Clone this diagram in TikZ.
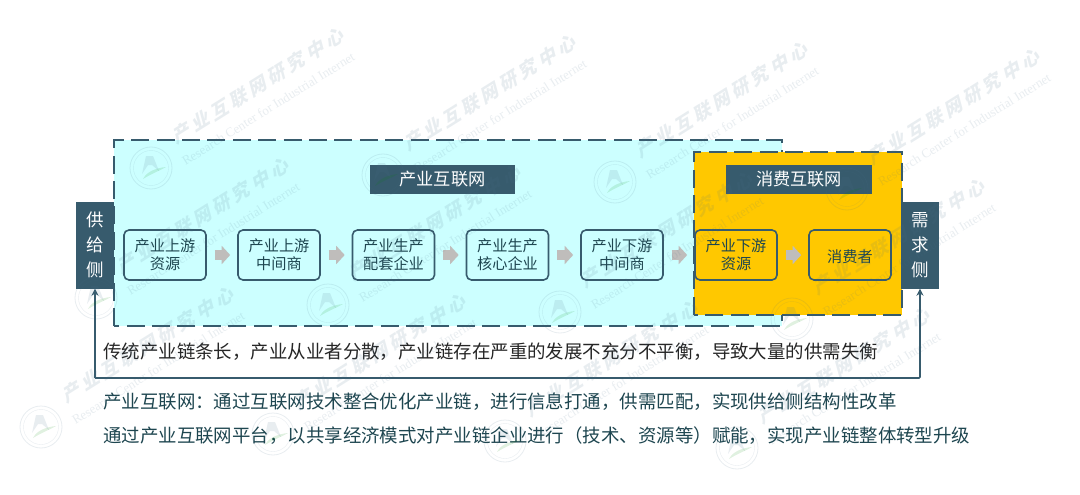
\documentclass[tikz,border=0pt]{standalone}
\usepackage{fontspec}
\setmainfont{Noto Sans CJK SC}
\newfontfamily\wmfont[LetterSpace=22]{Noto Sans CJK SC}
\newfontfamily\wmen{Liberation Serif}
\usetikzlibrary{arrows.meta,calc}
\definecolor{deep}{HTML}{375B6D}
\definecolor{cyanbg}{HTML}{CCFFFF}
\definecolor{goldbg}{HTML}{FFC800}
\definecolor{arrowgray}{HTML}{BFBDBB}
\definecolor{ink}{HTML}{1E4650}
\definecolor{wmblue}{HTML}{4A6F8A}
\tikzset{
  x=1pt,y=-1pt,
  zone/.style={draw=deep,line width=2pt,dash pattern=on 18pt off 7.4pt},
  head/.style={fill=deep,text=white,font=\fontsize{17.2}{20}\selectfont,inner sep=0pt,minimum height=29pt},
  stepbox/.style={draw=deep,line width=1.6pt,rounded corners=5pt,minimum width=82pt,minimum height=50pt,inner sep=0pt,align=center,text=ink,font=\fontsize{15.2}{18}\selectfont,execute at begin node=\rule{0pt}{16.5pt}},
  side/.style={fill=deep,text=white,minimum width=38pt,minimum height=87pt,inner sep=0pt,align=center,font=\fontsize{17.5}{25}\selectfont},
  flowarrow/.style={arrowgray,line width=10.5pt,-{Triangle[length=8.5pt,width=18pt]},shorten <=8pt,shorten >=7pt},
  feedback/.style={deep,line width=1.6pt,-{Stealth[length=7pt,width=7pt]},rounded corners=1pt},
  caption/.style={anchor=west,inner sep=0pt,font=\fontsize{18.45}{22}\selectfont},
}
\newcommand{\wmark}[2]{%
  \begin{scope}[shift={(#1,#2)},opacity=.12]
    \draw[wmblue,line width=.8pt] (0,0) circle[radius=21];
    \draw[wmblue,line width=.4pt] (0,0) circle[radius=17.5];
    \fill[wmblue] (-9,6) -- (-5,-12) -- (2,-12) -- (8,3) -- (1,-3) -- (-3,-3) -- cycle;
    \fill[green!55!black] (-8,11) .. controls (-4,3) and (6,0) .. (15,-1) .. controls (8,3) and (0,6) .. cycle;
    \begin{scope}[shift={(23,-30)},rotate=32,xslant=.3,transform shape]
      \node[wmblue,font=\wmfont\bfseries\fontsize{18.5}{20}\selectfont,anchor=west,inner sep=0pt] at (0,0) {产业互联网研究中心};
    \end{scope}
    \node[wmblue,font=\wmen\fontsize{13}{15}\selectfont,rotate=32,anchor=west,inner sep=0pt] at (32,-6) {Research Center for Industrial Internet};
  \end{scope}}
\begin{document}
\begin{tikzpicture}
\useasboundingbox (0,0) rectangle (1080,495);
\fill[white] (0,0) rectangle (1080,495);
% zones
\path[fill=cyanbg] (114,140) rectangle (781.5,326);
\draw[zone] (114,326) -- (114,140) -- (781.5,140) -- (781.5,326) -- cycle;
\path[fill=goldbg] (693.5,152) rectangle (901.5,314.5);
\draw[zone] (693.5,314.5) -- (693.5,152) -- (901.5,152) -- (901.5,314.5) -- cycle;
% headers
\node[head,minimum width=145pt] (hA) at (442.5,179) {产业互联网};
\node[head,minimum width=146pt] (hB) at (799,179) {消费互联网};
% sides
\node[side] (sup) at (95,245) {供\\给\\侧};
\node[side] (dem) at (920,245) {需\\求\\侧};
% step boxes
\node[stepbox] (s1) at (165,255) {产业上游\\资源};
\node[stepbox] (s2) at (279,255) {产业上游\\中间商};
\node[stepbox] (s3) at (393.5,255) {产业生产\\配套企业};
\node[stepbox] (s4) at (507.5,255) {产业生产\\核心企业};
\node[stepbox] (s5) at (622,255) {产业下游\\中间商};
\node[stepbox] (s6) at (736,255) {产业下游\\资源};
\node[stepbox] (s7) at (850,255) {消费者};
\foreach \a/\b in {s1/s2,s2/s3,s3/s4,s4/s5,s5/s6,s6/s7}{
  \draw[flowarrow] (\a.east) -- (\b.west);
}
% feedback
\coordinate (bl) at (95,378);
\coordinate (br) at (920,378);
\draw[feedback] (bl) -- (br) -- (dem.south);
\draw[feedback] (bl) -- (sup.south);
% captions
\node[caption,text=black!85] (c1) at (103,352) {传统产业链条长，产业从业者分散，产业链存在严重的发展不充分不平衡，导致大量的供需失衡};
\node[caption,text=ink] (c2) at (103,402) {产业互联网：通过互联网技术整合优化产业链，进行信息打通，供需匹配，实现供给侧结构性改革};
\node[caption,text=ink] (c3) at (103,436) {通过产业互联网平台，以共享经济模式对产业链企业进行（技术、资源等）赋能，实现产业链整体转型升级};
% watermark
\begin{scope}
\clip (0,0) rectangle (1080,495);
\foreach \c in {0,1,2,3}{
  \wmark{151+232*\c}{168+7*\c}
  \wmark{96+232*\c}{298+7*\c}
  \wmark{41+232*\c}{427+7*\c}
}
\end{scope}
\end{tikzpicture}
\end{document}
